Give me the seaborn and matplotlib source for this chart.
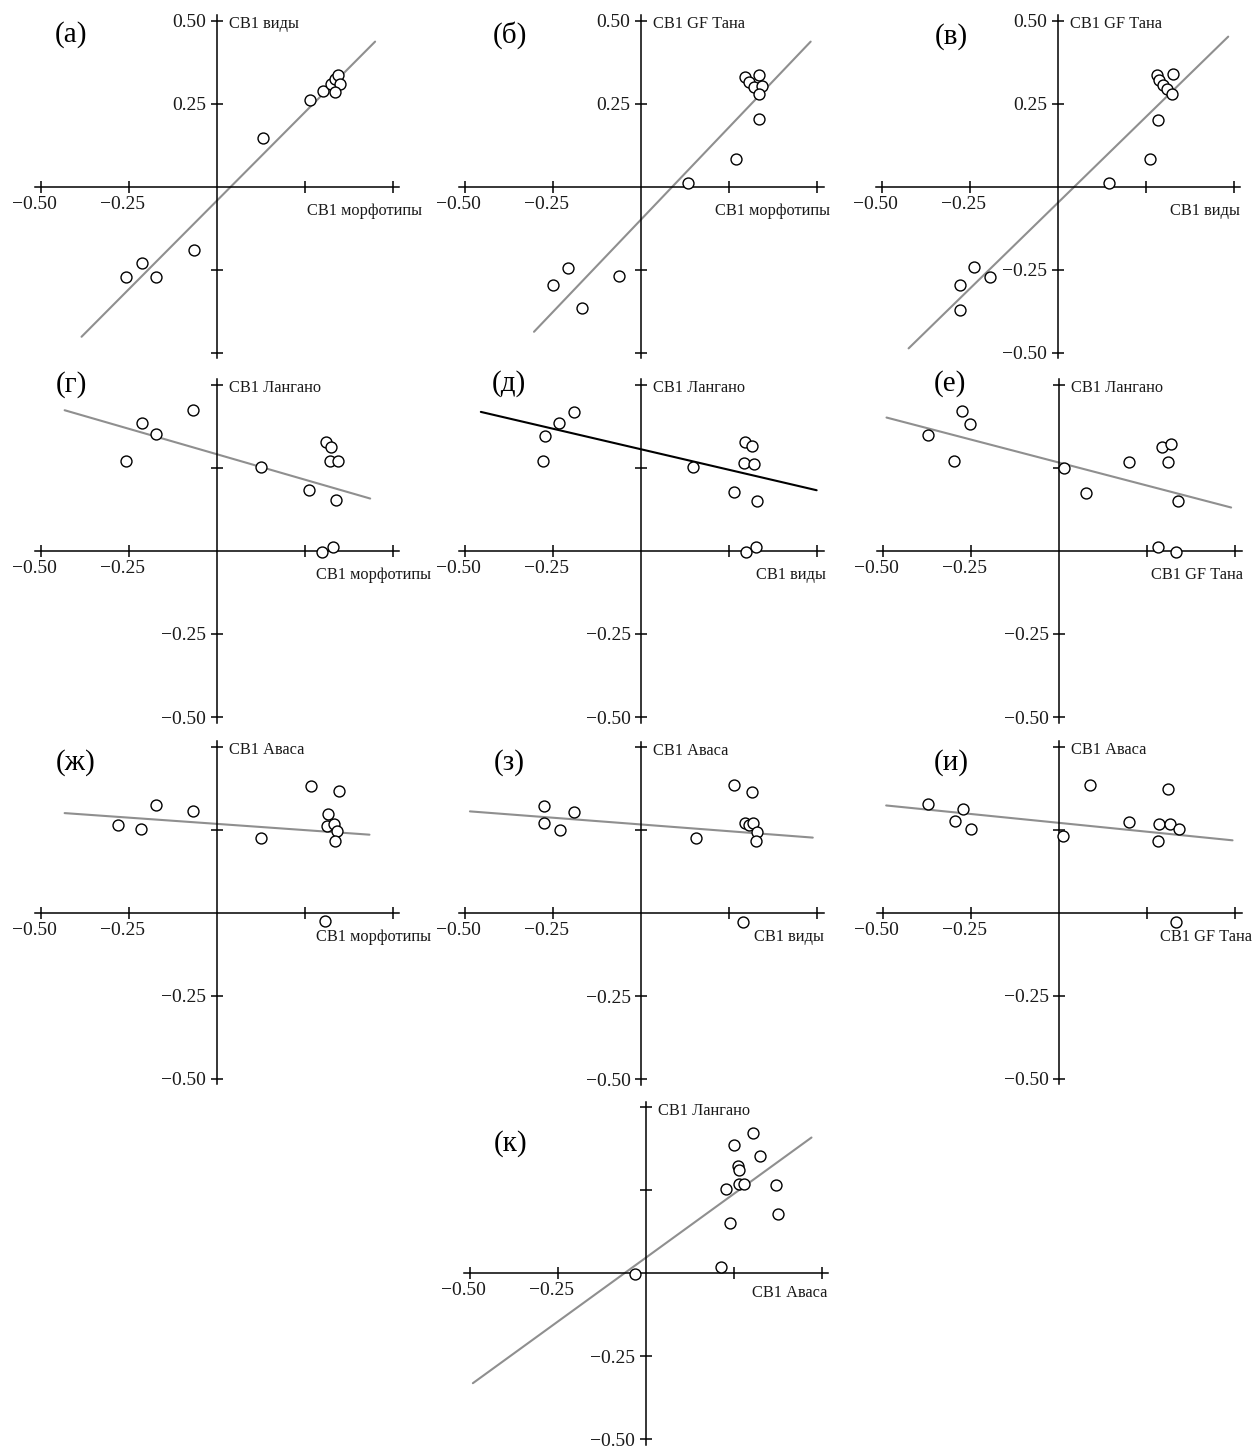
import matplotlib
matplotlib.use("Agg")
import matplotlib.pyplot as plt
import matplotlib.transforms as mtransforms
import seaborn as sns

sns.set_style("white")
plt.rcParams['font.family'] = ['Liberation Serif', 'DejaVu Serif']
plt.rcParams['axes.unicode_minus'] = True

# ---------------- data ----------------
a_x = [0.131, 0.266, 0.303, 0.324, 0.335, 0.344, 0.350, 0.336, -0.065, -0.213, -0.259, -0.172]
a_y = [0.148, 0.261, 0.287, 0.310, 0.324, 0.336, 0.310, 0.285, -0.190, -0.231, -0.271, -0.271]
a_fit_x = [-0.384, 0.450]
a_fit_y = [-0.452, 0.437]

b_x = [0.295, 0.308, 0.322, 0.334, 0.345, 0.335, 0.334, 0.269, 0.134, -0.208, -0.251, -0.168, -0.062]
b_y = [0.331, 0.316, 0.299, 0.336, 0.302, 0.278, 0.204, 0.084, 0.010, -0.244, -0.296, -0.364, -0.269]
b_fit_x = [-0.304, 0.482]
b_fit_y = [-0.437, 0.437]

v_x = [0.282, 0.287, 0.301, 0.310, 0.328, 0.324, 0.286, 0.263, 0.145, -0.238, -0.278, -0.193, -0.278]
v_y = [0.337, 0.320, 0.305, 0.294, 0.339, 0.280, 0.200, 0.082, 0.010, -0.241, -0.297, -0.273, -0.371]
v_fit_x = [-0.423, 0.485]
v_fit_y = [-0.487, 0.452]

g_x = [-0.068, -0.213, -0.172, -0.258, 0.126, 0.310, 0.326, 0.321, 0.344, 0.263, 0.338, 0.299, 0.331]
g_y = [0.425, 0.387, 0.351, 0.272, 0.254, 0.329, 0.313, 0.271, 0.271, 0.183, 0.153, -0.003, 0.012]
g_fit_x = [-0.432, 0.436]
g_fit_y = [0.424, 0.158]

d_x = [-0.191, -0.233, -0.272, -0.277, 0.148, 0.295, 0.314, 0.293, 0.322, 0.263, 0.329, 0.297, 0.328]
d_y = [0.419, 0.386, 0.346, 0.271, 0.254, 0.328, 0.317, 0.264, 0.262, 0.178, 0.151, -0.003, 0.013]
d_fit_x = [-0.455, 0.499]
d_fit_y = [0.419, 0.183]

e_x = [-0.275, -0.253, -0.371, -0.299, 0.014, 0.077, 0.198, 0.292, 0.318, 0.309, 0.338, 0.281, 0.331]
e_y = [0.422, 0.384, 0.350, 0.270, 0.250, 0.175, 0.268, 0.312, 0.323, 0.267, 0.150, 0.013, -0.002]
e_fit_x = [-0.490, 0.489]
e_fit_y = [0.402, 0.131]

zh_x = [0.267, 0.347, -0.172, -0.067, 0.317, -0.280, -0.215, 0.312, 0.333, 0.341, 0.127, 0.337, 0.307]
zh_y = [0.382, 0.368, 0.325, 0.307, 0.297, 0.265, 0.252, 0.262, 0.267, 0.245, 0.226, 0.216, -0.025]
zh_fit_x = [-0.432, 0.434]
zh_fit_y = [0.300, 0.235]

z_x = [0.264, 0.316, -0.275, -0.191, -0.275, -0.229, 0.295, 0.308, 0.319, 0.329, 0.156, 0.326, 0.290]
z_y = [0.385, 0.366, 0.323, 0.306, 0.271, 0.250, 0.271, 0.265, 0.272, 0.246, 0.228, 0.217, -0.027]
z_fit_x = [-0.486, 0.488]
z_fit_y = [0.307, 0.228]

i_x = [0.088, 0.310, -0.372, -0.273, -0.295, -0.249, 0.200, 0.285, 0.314, 0.342, 0.282, 0.010, 0.333]
i_y = [0.384, 0.372, 0.328, 0.311, 0.276, 0.253, 0.273, 0.266, 0.266, 0.251, 0.216, 0.230, -0.027]
i_fit_x = [-0.491, 0.493]
i_fit_y = [0.323, 0.218]

k_x = [0.304, 0.251, 0.325, 0.263, 0.264, 0.264, 0.279, 0.228, 0.370, 0.377, 0.240, 0.215, -0.029]
k_y = [0.423, 0.386, 0.353, 0.324, 0.311, 0.269, 0.270, 0.254, 0.266, 0.179, 0.152, 0.018, -0.001]
k_fit_x = [-0.491, 0.471]
k_fit_y = [-0.331, 0.409]

tick_values = [-0.50, -0.25, 0.25, 0.50]
tick_text = ["\u22120.50", "\u22120.25", "0.25", "0.50"]

panel_tags = ["(а)", "(б)", "(в)", "(г)", "(д)", "(е)", "(ж)", "(з)", "(и)", "(к)"]
x_titles = ["CB1 морфотипы", "CB1 морфотипы", "CB1 виды",
            "CB1 морфотипы", "CB1 виды", "CB1 GF Тана",
            "CB1 морфотипы", "CB1 виды", "CB1 GF Тана",
            "CB1 Аваса"]
y_titles = ["CB1 виды", "CB1 GF Тана", "CB1 GF Тана",
            "CB1 Лангано", "CB1 Лангано", "CB1 Лангано",
            "CB1 Аваса", "CB1 Аваса", "CB1 Аваса",
            "CB1 Лангано"]
points = [(a_x, a_y), (b_x, b_y), (v_x, v_y), (g_x, g_y), (d_x, d_y),
          (e_x, e_y), (zh_x, zh_y), (z_x, z_y), (i_x, i_y), (k_x, k_y)]
fits = [(a_fit_x, a_fit_y), (b_fit_x, b_fit_y), (v_fit_x, v_fit_y), (g_fit_x, g_fit_y),
        (d_fit_x, d_fit_y), (e_fit_x, e_fit_y), (zh_fit_x, zh_fit_y), (z_fit_x, z_fit_y),
        (i_fit_x, i_fit_y), (k_fit_x, k_fit_y)]

# ---------------- layout ----------------
W, H = 1255, 1448
SX, SY = 352.0, 332.0          # pixels per data unit
LIM = 0.53
origins = [(216.7, 186.7), (641.0, 186.7), (1057.5, 186.7),
           (216.7, 551.0), (641.0, 551.0), (1059.0, 551.0),
           (216.7, 912.7), (641.0, 913.3), (1059.0, 912.7),
           (645.7, 1273.3)]
ylab_mode = ["pos", "pos", "all", "neg", "neg", "neg", "neg", "neg", "neg", "neg"]
line_colors = ["#8f8f8f"] * 10
line_colors[4] = "black"
tag_pos = [(-0.415, 0.457), (-0.372, 0.457), (-0.301, 0.452),
           (-0.414, 0.500), (-0.374, 0.503), (-0.310, 0.505),
           (-0.402, 0.453), (-0.375, 0.455), (-0.307, 0.453),
           (-0.385, 0.390)]
xt_anchor = [(0.256, "left"), (0.21, "left"), (0.518, "right"),
             (0.282, "left"), (0.526, "right"), (0.523, "right"),
             (0.282, "left"), (0.520, "right"), (0.548, "right"),
             (0.515, "right")]
xt_y = [-0.072] * 9 + [-0.058]

fig = plt.figure(figsize=(W / 100, H / 100), dpi=100)
xlab_shift = mtransforms.ScaledTranslation(-0.065, 0, fig.dpi_scale_trans)

for idx in range(10):
    ox, oy = origins[idx]
    left_px = ox - LIM * SX
    top_px = oy - LIM * SY
    wpx = 2 * LIM * SX
    hpx = 2 * LIM * SY
    ax = fig.add_axes([left_px / W, 1 - (top_px + hpx) / H, wpx / W, hpx / H])
    ax.set_xlim(-LIM, LIM)
    ax.set_ylim(-LIM, LIM)
    ax.patch.set_alpha(0)

    fx, fy = fits[idx]
    sns.lineplot(x=fx, y=fy, ax=ax, color=line_colors[idx], linewidth=1.5,
                 estimator=None, sort=False, zorder=2)
    px, py = points[idx]
    sns.scatterplot(x=px, y=py, ax=ax, s=62, facecolor="white",
                    edgecolor="black", linewidth=1.0, zorder=3)

    for side in ("top", "right"):
        ax.spines[side].set_visible(False)
    ax.spines["left"].set_position(("data", 0))
    ax.spines["bottom"].set_position(("data", 0))
    ax.spines["left"].set_bounds(-0.517, 0.517)
    ax.spines["bottom"].set_bounds(-0.516, 0.519)
    for side in ("left", "bottom"):
        ax.spines[side].set_linewidth(1.1)
        ax.spines[side].set_color("black")

    ax.set_xticks(tick_values)
    ax.set_xticklabels([tick_text[0], tick_text[1], "", ""])
    ax.set_yticks(tick_values)
    mode = ylab_mode[idx]
    if mode == "pos":
        ylabels = ["", "", tick_text[2], tick_text[3]]
    elif mode == "neg":
        ylabels = [tick_text[0], tick_text[1], "", ""]
    else:
        ylabels = list(tick_text)
    ax.set_yticklabels(ylabels)
    ax.tick_params(axis="both", which="major", bottom=True, left=True,
                   top=False, right=False,
                   direction="inout", length=9, width=1.1,
                   color="black", labelsize=14, labelcolor="#1a1a1a")
    ax.tick_params(axis="x", pad=2)
    ax.tick_params(axis="y", pad=3)
    for lab in ax.get_xticklabels():
        lab.set_transform(lab.get_transform() + xlab_shift)
    ax.set_xlabel("")
    ax.set_ylabel("")
    ax.grid(False)

    ax.text(0.035, 0.49, y_titles[idx], fontsize=11.8, ha="left", va="center",
            color="#1a1a1a")
    xx, ha = xt_anchor[idx]
    ax.text(xx, xt_y[idx], x_titles[idx], fontsize=11.8, ha=ha, va="center",
            color="#1a1a1a")
    tx, ty = tag_pos[idx]
    ax.text(tx, ty, panel_tags[idx], fontsize=21, ha="center", va="center",
            color="black")

fig.savefig("out.png", dpi=100)
